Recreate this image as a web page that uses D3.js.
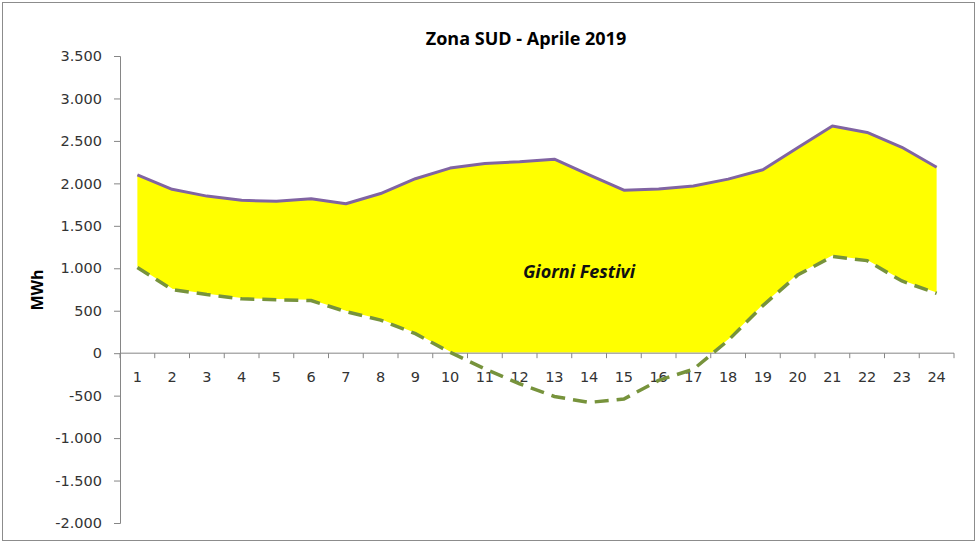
<!DOCTYPE html>
<html>
<head>
<meta charset="utf-8">
<script src="https://cdn.jsdelivr.net/npm/d3@7"></script>
<style>
  body { margin: 0; background: #fff; }
  svg { display: block; }
</style>
</head>
<body>
<svg width="977" height="543"></svg>
<script>
(function() {
	// data
	const hours = [1,2,3,4,5,6,7,8,9,10,11,12,13,14,15,16,17,18,19,20,21,22,23,24];
	const upper = [2100,1930,1850,1800,1790,1820,1760,1880,2055,2180,2235,2255,2285,2100,1920,1935,1970,2050,2160,2420,2675,2600,2425,2190];
	const lower = [1010,750,690,640,630,620,490,390,230,10,-185,-360,-510,-580,-540,-320,-190,150,560,920,1140,1090,850,705];
	const yTicks = [-2000,-1500,-1000,-500,0,500,1000,1500,2000,2500,3000,3500];

	const svg = d3.select('svg');
	const width = +svg.attr('width');
	const height = +svg.attr('height');

	const it = d3.formatLocale({decimal: ',', thousands: '.', grouping: [3], currency: ['€', ''], minus: '-'});
	const fmt = it.format(',');

	const left = 120, right = 954, top = 56, bottom = 523;

	const x = d3.scaleBand().domain(hours).range([left, right]);
	const y = d3.scaleLinear().domain([-2000, 3500]).range([bottom, top]);
	const cx = d => x(d) + x.bandwidth() / 2;

	// outer border
	svg.append('rect')
		.attr('x', 2.5).attr('y', 2.5)
		.attr('width', width - 5).attr('height', height - 5)
		.attr('fill', '#fff')
		.attr('stroke', '#8c8c8c');

	// title
	svg.append('text')
		.attr('x', 526).attr('y', 45)
		.attr('text-anchor', 'middle')
		.style('font-family', '"Open Sans", sans-serif')
		.style('font-weight', 'bold')
		.style('font-size', '18px')
		.attr('fill', '#000')
		.text('Zona SUD - Aprile 2019');

	// yellow band: upper area then white area down to lower (Excel style)
	const rows = hours.map((h, i) => ({h: h, up: upper[i], lo: lower[i]}));

	svg.append('path')
		.datum(rows)
		.attr('fill', '#ffff00')
		.attr('d', d3.area().x(d => cx(d.h)).y0(y(0)).y1(d => y(d.up)));

	svg.append('path')
		.datum(rows)
		.attr('fill', '#fff')
		.attr('stroke', '#fff')
		.attr('stroke-width', 1.5)
		.attr('d', d3.area().x(d => cx(d.h)).y0(y(0)).y1(d => y(d.lo)));

	// y axis
	const yAxis = svg.append('g')
		.attr('transform', `translate(${left},0)`)
		.call(d3.axisLeft(y).tickValues(yTicks).tickFormat(fmt).tickSize(6).tickPadding(12));
	yAxis.select('.domain').attr('stroke', '#868686');
	yAxis.selectAll('.tick line').attr('stroke', '#868686');
	yAxis.selectAll('text')
		.style('font-family', '"DejaVu Sans", sans-serif')
		.style('font-size', '14.5px')
		.attr('fill', '#333');

	// x axis at zero
	const xg = svg.append('g').attr('transform', `translate(0,${y(0)})`);
	xg.append('line')
		.attr('x1', left).attr('x2', right)
		.attr('stroke', '#868686');
	xg.selectAll('line.tk')
		.data(hours.map(h => x(h)).concat([right]))
		.join('line')
		.attr('class', 'tk')
		.attr('x1', d => d).attr('x2', d => d)
		.attr('y1', 0).attr('y2', 5)
		.attr('stroke', '#868686');
	xg.selectAll('text')
		.data(hours)
		.join('text')
		.attr('x', d => cx(d))
		.attr('y', 29)
		.attr('text-anchor', 'middle')
		.style('font-family', '"DejaVu Sans", sans-serif')
		.style('font-size', '14.5px')
		.attr('fill', '#333')
		.text(d => d);

	// lines
	const line = d3.line().x(d => cx(d.h));

	svg.append('path')
		.datum(rows)
		.attr('fill', 'none')
		.attr('stroke', '#77933c')
		.attr('stroke-width', 3.5)
		.attr('stroke-dasharray', '14,8')
		.attr('d', line.y(d => y(d.lo)));

	svg.append('path')
		.datum(rows)
		.attr('fill', 'none')
		.attr('stroke', '#8064a2')
		.attr('stroke-width', 3)
		.attr('stroke-linejoin', 'round')
		.attr('d', line.y(d => y(d.up)));

	// labels
	svg.append('text')
		.attr('transform', 'translate(43,290) rotate(-90)')
		.attr('text-anchor', 'middle')
		.style('font-family', '"Open Sans", sans-serif')
		.style('font-weight', 'bold')
		.style('font-size', '16px')
		.attr('fill', '#000')
		.text('MWh');

	svg.append('text')
		.attr('x', 579).attr('y', 278)
		.attr('text-anchor', 'middle')
		.style('font-family', '"Open Sans", sans-serif')
		.style('font-weight', 'bold')
		.style('font-style', 'italic')
		.style('font-size', '18px')
		.attr('fill', '#111')
		.text('Giorni Festivi');
})()
</script>
</body>
</html>
